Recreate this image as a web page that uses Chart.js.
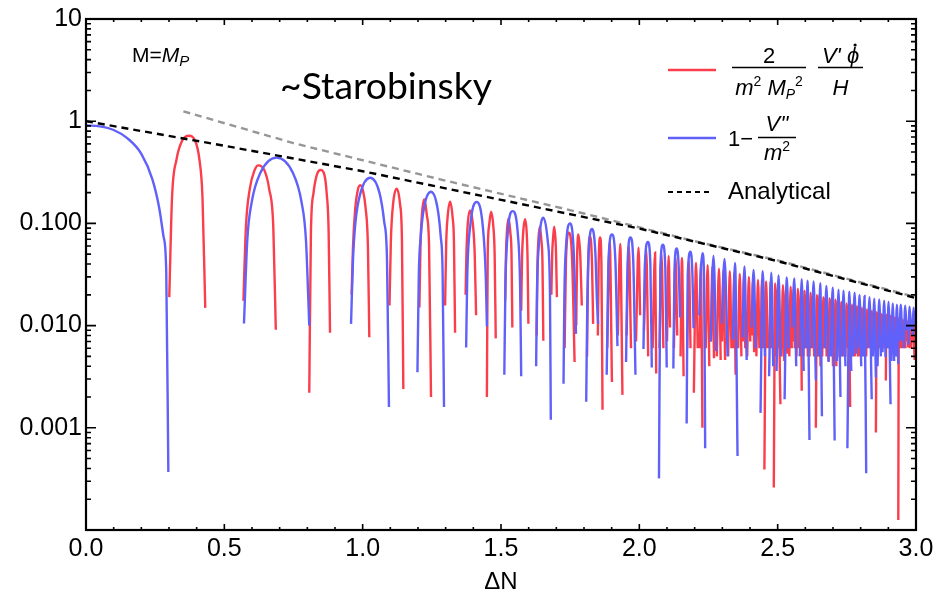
<!DOCTYPE html>
<html>
<head>
<meta charset="utf-8">
<title>Starobinsky oscillations</title>
<script src="https://cdn.jsdelivr.net/npm/chart.js@4.4.1/dist/chart.umd.min.js"></script>
<style>
  body { margin: 0; background: #fff; }
  canvas { display: block; }
</style>
</head>
<body>
<canvas id="mycanvas" width="942" height="599"></canvas>
<script>
// axis ticks
var xTicks = [0, 0.5, 1, 1.5, 2, 2.5, 3];
var xTickLabels = ['0.0', '0.5', '1.0', '1.5', '2.0', '2.5', '3.0'];
var yTicks = [10, 1, 0.1, 0.01, 0.001];
var yTickLabels = ['10', '1', '0.100', '0.010', '0.001'];

// analytical envelope (black dashed) and the grey dashed guide
var analyticalN = [0, 0.5, 1, 1.5, 2, 2.5, 3];
var analyticalY = [1, 0.575, 0.324, 0.170, 0.089, 0.0427, 0.0186];
var guideN = [0.352, 0.75, 1.28, 1.8, 2.2, 2.5, 3];
var guideY = [1.25, 0.61, 0.27, 0.125, 0.067, 0.0435, 0.019];

// 1 - V''/m^2 : each lobe is a list of (dN, value) pairs
var blueLobes = [
  [0,0.91, 0.05,0.89, 0.1,0.82, 0.15,0.68, 0.2,0.48, 0.24,0.27, 0.265,0.14, 0.28,0.075, 0.29,0.035, 0.2976,0.00037],
  [0.571,0.0105, 0.583,0.069, 0.599,0.162, 0.630,0.311, 0.689,0.44, 0.748,0.311, 0.779,0.162, 0.795,0.069, 0.807,0.0100],
  [0.958,0.0104, 0.965,0.044, 0.974,0.103, 0.992,0.198, 1.027,0.28, 1.061,0.198, 1.078,0.103, 1.088,0.044, 1.095,0.0016],
  [1.198,0.0035, 1.203,0.032, 1.210,0.075, 1.222,0.144, 1.247,0.204, 1.270,0.144, 1.282,0.075, 1.289,0.032, 1.294,0.0016],
  [1.374,0.0061, 1.378,0.030, 1.389,0.095, 1.412,0.162, 1.434,0.095, 1.445,0.030, 1.449,0.0098],
  [1.512,0.0033, 1.516,0.025, 1.524,0.078, 1.542,0.132, 1.561,0.078, 1.569,0.025, 1.573,0.0032],
  [1.627,0.004, 1.630,0.021, 1.638,0.067, 1.653,0.114, 1.669,0.067, 1.677,0.021, 1.680,0.0012],
  [1.726,0.0027, 1.729,0.019, 1.735,0.059, 1.750,0.100, 1.762,0.059, 1.768,0.019, 1.771,0.0083],
  [1.808,0.0018, 1.812,0.017, 1.817,0.052, 1.829,0.088, 1.841,0.052, 1.847,0.017, 1.851,0.0104],
  [1.882,0.0033, 1.889,0.046, 1.901,0.078, 1.913,0.046, 1.921,0.0063],
  [1.952,0.0044, 1.958,0.043, 1.968,0.073, 1.978,0.043, 1.986,0.0033],
  [2.015,0.0059, 2.020,0.039, 2.031,0.066, 2.040,0.039, 2.045,0.0039],
  [2.071,0.00032, 2.076,0.036, 2.085,0.062, 2.094,0.036, 2.099,0.0039],
  [2.123,0.0038, 2.127,0.034, 2.135,0.057, 2.143,0.034, 2.147,0.012],
  [2.171,0.0011, 2.175,0.031, 2.185,0.053, 2.192,0.031, 2.196,0.0094],
  [2.217,0.0126, 2.221,0.030, 2.228,0.051, 2.234,0.030, 2.238,0.00063],
  [2.258,0.0070, 2.268,0.048, 2.278,0.0056],
  [2.298,0.0105, 2.308,0.045, 2.319,0.005],
  [2.338,0.0073, 2.346,0.041, 2.355,0.00053],
  [2.373,0.0077, 2.380,0.038, 2.388,0.0046],
  [2.406,0.0096, 2.413,0.035, 2.421,0.006],
  [2.438,0.0014, 2.446,0.034, 2.454,0.005],
  [2.469,0.0032, 2.477,0.033, 2.484,0.004],
  [2.496,0.0036, 2.503,0.031, 2.511,0.005],
  [2.525,0.0019, 2.533,0.0296, 2.540,0.006],
  [2.553,0.0096, 2.560,0.029, 2.567,0.004],
  [2.580,0.005, 2.587,0.0285, 2.594,0.0036],
  [2.602,0.006, 2.608,0.0275, 2.615,0.00076],
  [2.623,0.006, 2.630,0.027, 2.638,0.0029],
  [2.648,0.005, 2.654,0.026, 2.660,0.0013],
  [2.670,0.006, 2.676,0.0245, 2.684,0.0044],
  [2.692,0.005, 2.699,0.0235, 2.706,0.00075],
  [2.714,0.0045, 2.720,0.0225, 2.727,0.002],
  [2.733,0.005, 2.738,0.022, 2.745,0.004],
  [2.752,0.00063, 2.759,0.0215, 2.766,0.0036],
  [2.772,0.005, 2.778,0.021, 2.784,0.0053],
  [2.790,0.006, 2.796,0.020, 2.802,0.004],
  [2.808,0.005, 2.814,0.0195, 2.820,0.00036],
  [2.826,0.006, 2.832,0.019, 2.840,0.0019],
  [2.844,0.005, 2.849,0.0183, 2.855,0.0031],
  [2.861,0.004, 2.867,0.018, 2.873,0.005],
  [2.879,0.0055, 2.885,0.0175, 2.890,0.0049],
  [2.896,0.006, 2.901,0.017, 2.908,0.0017],
  [2.911,0.0045, 2.916,0.0165, 2.921,0.0045],
  [2.926,0.005, 2.931,0.016, 2.936,0.0042],
  [2.940,0.007, 2.945,0.016, 2.950,0.0071],
  [2.956,0.006, 2.961,0.0157, 2.966,0.009],
  [2.972,0.0065, 2.977,0.0153, 2.982,0.009],
  [2.987,0.008, 2.991,0.015, 2.996,0.01]
];

// 2/(m^2 Mp^2) V' phidot / H
var redLobes = [
  [0.301,0.019, 0.311,0.18, 0.327,0.42, 0.347,0.64, 0.372,0.72, 0.395,0.64, 0.410,0.42, 0.421,0.18, 0.431,0.0149],
  [0.569,0.0175, 0.578,0.092, 0.592,0.218, 0.609,0.33, 0.623,0.37, 0.645,0.33, 0.662,0.218, 0.677,0.092, 0.686,0.0091],
  [0.807,0.0022, 0.813,0.083, 0.822,0.196, 0.834,0.297, 0.848,0.333, 0.862,0.297, 0.870,0.196, 0.877,0.083, 0.882,0.0085],
  [0.960,0.02, 0.965,0.059, 0.973,0.139, 0.982,0.21, 0.991,0.236, 1.001,0.21, 1.011,0.139, 1.019,0.059, 1.024,0.0077],
  [1.097,0.0157, 1.102,0.068, 1.110,0.155, 1.123,0.219, 1.135,0.155, 1.142,0.068, 1.147,0.0024],
  [1.205,0.015, 1.209,0.06, 1.214,0.12, 1.222,0.172, 1.232,0.12, 1.240,0.06, 1.247,0.002],
  [1.298,0.0157, 1.302,0.065, 1.307,0.115, 1.316,0.163, 1.325,0.115, 1.330,0.065, 1.334,0.0085],
  [1.372,0.02, 1.375,0.05, 1.380,0.1, 1.388,0.134, 1.398,0.1, 1.405,0.05, 1.410,0.0126],
  [1.449,0.002, 1.452,0.05, 1.457,0.095, 1.464,0.130, 1.472,0.095, 1.477,0.05, 1.481,0.0075],
  [1.515,0.0175, 1.518,0.05, 1.521,0.08, 1.527,0.112, 1.534,0.08, 1.538,0.05, 1.541,0.0096],
  [1.573,0.014, 1.576,0.045, 1.580,0.08, 1.587,0.11, 1.593,0.08, 1.596,0.045, 1.599,0.0104],
  [1.629,0.008, 1.632,0.04, 1.635,0.068, 1.640,0.093, 1.646,0.068, 1.650,0.04, 1.653,0.0071],
  [1.682,0.02, 1.685,0.05, 1.688,0.07, 1.692,0.093, 1.697,0.07, 1.699,0.05, 1.702,0.019],
  [1.730,0.006, 1.735,0.045, 1.745,0.081, 1.757,0.045, 1.766,0.0044],
  [1.772,0.01, 1.775,0.045, 1.780,0.078, 1.787,0.045, 1.792,0.0157],
  [1.811,0.005, 1.815,0.04, 1.822,0.075, 1.829,0.04, 1.833,0.0104],
  [1.850,0.008, 1.853,0.04, 1.858,0.073, 1.863,0.04, 1.867,0.0015],
  [1.884,0.006, 1.893,0.066, 1.901,0.0028],
  [1.922,0.008, 1.931,0.063, 1.939,0.0021],
  [1.954,0.008, 1.962,0.060, 1.970,0.006],
  [1.988,0.007, 1.997,0.058, 2.003,0.0126],
  [2.017,0.009, 2.025,0.055, 2.032,0.005],
  [2.048,0.006, 2.057,0.052, 2.061,0.0034],
  [2.073,0.006, 2.080,0.050, 2.087,0.006],
  [2.100,0.007, 2.106,0.048, 2.111,0.0096],
  [2.125,0.006, 2.131,0.046, 2.137,0.008],
  [2.149,0.005, 2.154,0.046, 2.160,0.0032],
  [2.173,0.006, 2.179,0.043, 2.185,0.006],
  [2.197,0.0022, 2.205,0.041, 2.211,0.006],
  [2.218,0.006, 2.223,0.040, 2.228,0.001],
  [2.240,0.006, 2.247,0.039, 2.253,0.004],
  [2.259,0.007, 2.264,0.038, 2.270,0.0048],
  [2.280,0.005, 2.288,0.036, 2.294,0.0046],
  [2.299,0.007, 2.304,0.035, 2.310,0.0046],
  [2.321,0.005, 2.327,0.034, 2.333,0.006],
  [2.339,0.006, 2.343,0.033, 2.348,0.0033],
  [2.357,0.006, 2.363,0.032, 2.369,0.005],
  [2.374,0.007, 2.378,0.031, 2.383,0.006],
  [2.390,0.005, 2.396,0.030, 2.401,0.007],
  [2.407,0.008, 2.411,0.029, 2.415,0.0055],
  [2.423,0.005, 2.429,0.028, 2.434,0.006],
  [2.439,0.006, 2.443,0.028, 2.447,0.006],
  [2.452,0.00039, 2.458,0.027, 2.464,0.006],
  [2.471,0.006, 2.474,0.027, 2.478,0.006],
  [2.486,0.00026, 2.491,0.026, 2.496,0.005],
  [2.498,0.006, 2.501,0.025, 2.510,0.0017],
  [2.514,0.005, 2.519,0.025, 2.524,0.0045],
  [2.527,0.006, 2.530,0.024, 2.535,0.0053],
  [2.542,0.005, 2.547,0.024, 2.551,0.006],
  [2.555,0.007, 2.558,0.023, 2.562,0.006],
  [2.568,0.005, 2.573,0.023, 2.577,0.006],
  [2.581,0.007, 2.584,0.022, 2.587,0.0023],
  [2.593,0.005, 2.597,0.022, 2.600,0.006],
  [2.603,0.006, 2.606,0.022, 2.609,0.005],
  [2.615,0.005, 2.619,0.021, 2.623,0.006],
  [2.625,0.006, 2.628,0.021, 2.632,0.005],
  [2.638,0.001, 2.642,0.020, 2.646,0.005],
  [2.648,0.006, 2.651,0.020, 2.655,0.004],
  [2.661,0.005, 2.665,0.019, 2.668,0.006],
  [2.670,0.006, 2.673,0.019, 2.677,0.005],
  [2.684,0.0045, 2.688,0.0185, 2.691,0.006],
  [2.693,0.007, 2.696,0.018, 2.700,0.004],
  [2.706,0.006, 2.709,0.018, 2.712,0.004],
  [2.714,0.006, 2.717,0.0175, 2.724,0.0049],
  [2.727,0.005, 2.730,0.017, 2.732,0.006],
  [2.734,0.006, 2.736,0.017, 2.740,0.005],
  [2.745,0.005, 2.749,0.0165, 2.752,0.007],
  [2.754,0.006, 2.757,0.016, 2.762,0.0016],
  [2.766,0.006, 2.769,0.016, 2.771,0.006],
  [2.773,0.007, 2.775,0.0155, 2.779,0.005],
  [2.784,0.006, 2.787,0.0155, 2.790,0.005],
  [2.791,0.007, 2.794,0.015, 2.797,0.005],
  [2.802,0.006, 2.805,0.015, 2.808,0.007],
  [2.809,0.007, 2.812,0.0145, 2.815,0.005],
  [2.820,0.005, 2.823,0.0145, 2.826,0.007],
  [2.827,0.007, 2.830,0.014, 2.833,0.006],
  [2.838,0.006, 2.841,0.014, 2.844,0.007],
  [2.845,0.007, 2.847,0.0138, 2.850,0.006],
  [2.855,0.0009, 2.858,0.0135, 2.861,0.006],
  [2.862,0.007, 2.865,0.0135, 2.868,0.006],
  [2.873,0.006, 2.876,0.013, 2.879,0.007],
  [2.880,0.007, 2.883,0.013, 2.886,0.006],
  [2.891,0.0029, 2.893,0.0128, 2.895,0.007],
  [2.896,0.007, 2.899,0.0125, 2.902,0.006],
  [2.907,0.005, 2.909,0.0125, 2.911,0.007],
  [2.912,0.007, 2.914,0.012, 2.917,0.006],
  [2.921,0.006, 2.923,0.012, 2.925,0.007],
  [2.926,0.007, 2.929,0.012, 2.932,0.005],
  [2.936,0.000125, 2.938,0.0118, 2.940,0.007],
  [2.941,0.007, 2.943,0.0115, 2.946,0.006],
  [2.950,0.006, 2.953,0.0115, 2.955,0.007],
  [2.956,0.007, 2.959,0.011, 2.962,0.006],
  [2.967,0.007, 2.969,0.011, 2.972,0.0061],
  [2.973,0.007, 2.975,0.011, 2.978,0.006],
  [2.983,0.006, 2.985,0.0108, 2.987,0.007],
  [2.988,0.007, 2.990,0.0105, 2.995,0.0046],
  [2.997,0.006, 2.999,0.010, 3.0,0.007]
];

var BLUE = 'rgb(96,96,250)';
var RED = 'rgb(250,62,76)';
var FONT = 'Liberation Sans';

function lobePoints(lobes) {
  var pts = [];
  lobes.forEach(function(l, k) {
    if (k > 0) pts.push({x: l[0], y: null}); // break the line between lobes
    for (var i = 0; i < l.length; i += 2) pts.push({x: l[i], y: l[i + 1]});
  });
  return pts;
}

function pairs(xs, ys) {
  return xs.map(function(v, i) { return {x: v, y: ys[i]}; });
}

// frame with inward ticks on all four sides
var framePlugin = {
  id: 'frame',
  afterDatasetsDraw: function(chart) {
    var ctx = chart.ctx, a = chart.chartArea;
    var xs = chart.scales.x, ys = chart.scales.y;
    ctx.save();
    ctx.strokeStyle = '#000';
    ctx.lineWidth = 1.6;
    ctx.beginPath();
    for (var i = 0; i <= 30; i++) {
      var px = xs.getPixelForValue(i / 10);
      var len = (i % 5 === 0) ? 6 : 3;
      ctx.moveTo(px, a.bottom); ctx.lineTo(px, a.bottom - len);
      ctx.moveTo(px, a.top); ctx.lineTo(px, a.top + len);
    }
    for (var d = 0.0001; d < 10; d *= 10) {
      for (var m = 1; m <= 10; m++) {
        var v = d * m;
        var py = ys.getPixelForValue(v);
        var l2 = (m === 1 || m === 10) ? 10 : 5;
        ctx.moveTo(a.left, py); ctx.lineTo(a.left + l2, py);
        ctx.moveTo(a.right, py); ctx.lineTo(a.right - l2, py);
      }
    }
    ctx.stroke();
    ctx.lineWidth = 2.2;
    ctx.strokeRect(a.left, a.top, a.right - a.left, a.bottom - a.top);
    ctx.restore();
  }
};

function drawRun(ctx, parts, x, y) {
  parts.forEach(function(p) {
    ctx.font = (p[2] ? 'italic ' : '') + p[1] + 'px "' + FONT + '"';
    ctx.fillText(p[0], x, y + (p[3] || 0));
    x += ctx.measureText(p[0]).width;
  });
  return x;
}

function runWidth(ctx, parts) {
  var w = 0;
  parts.forEach(function(p) {
    ctx.font = (p[2] ? 'italic ' : '') + p[1] + 'px "' + FONT + '"';
    w += ctx.measureText(p[0]).width;
  });
  return w;
}

// legend and labels inside the plot
var notesPlugin = {
  id: 'notes',
  afterDraw: function(chart) {
    var ctx = chart.ctx;
    ctx.save();
    ctx.fillStyle = '#000';
    ctx.textAlign = 'left';
    ctx.textBaseline = 'alphabetic';

    // M = M_P
    drawRun(ctx, [['M=', 21, false], ['M', 21, true], ['P', 15, true, 4]], 132, 62);

    // ~Starobinsky
    ctx.font = '34px Lato';
    var w = ctx.measureText('~Starobinsky').width;
    var size = 34 * 212 / w;
    ctx.font = size.toFixed(1) + 'px Lato';
    ctx.fillText('~Starobinsky', 280, 99);

    // legend lines
    ctx.lineWidth = 2.5;
    ctx.strokeStyle = RED;
    ctx.beginPath(); ctx.moveTo(668, 70); ctx.lineTo(716, 70); ctx.stroke();
    ctx.strokeStyle = BLUE;
    ctx.beginPath(); ctx.moveTo(668, 138); ctx.lineTo(716, 138); ctx.stroke();
    ctx.strokeStyle = '#000';
    ctx.lineWidth = 2;
    ctx.setLineDash([5, 4]);
    ctx.beginPath(); ctx.moveTo(668, 192); ctx.lineTo(713, 192); ctx.stroke();
    ctx.setLineDash([]);

    // 2 / (m^2 Mp^2)
    ctx.lineWidth = 1.4;
    ctx.beginPath(); ctx.moveTo(732, 67.5); ctx.lineTo(806, 67.5); ctx.stroke();
    var num = [['2', 22, false]];
    drawRun(ctx, num, 769 - runWidth(ctx, num) / 2, 63);
    var den = [['m', 22, true], ['2', 14, false, -9], [' ', 22, false], ['M', 22, true], ['P', 14, true, 4], ['2', 14, false, -9]];
    drawRun(ctx, den, 769 - runWidth(ctx, den) / 2, 95);

    // V' phidot / H
    ctx.beginPath(); ctx.moveTo(818, 67.5); ctx.lineTo(863, 67.5); ctx.stroke();
    var num2 = [["V'", 22, true], [' ', 22, false], ['\u03D5', 22, true]];
    var x2 = 840.5 - runWidth(ctx, num2) / 2;
    var endX = drawRun(ctx, num2, x2, 63);
    ctx.beginPath(); ctx.arc(endX - 4, 45, 1.6, 0, Math.PI * 2); ctx.fill();
    var den2 = [['H', 22, true]];
    drawRun(ctx, den2, 840.5 - runWidth(ctx, den2) / 2, 95);

    // 1 - V''/m^2
    drawRun(ctx, [['1\u2212', 22, false]], 728, 146);
    ctx.beginPath(); ctx.moveTo(758, 137.5); ctx.lineTo(796, 137.5); ctx.stroke();
    var num3 = [["V''", 22, true]];
    drawRun(ctx, num3, 777 - runWidth(ctx, num3) / 2, 131);
    var den3 = [['m', 22, true], ['2', 14, false, -9]];
    drawRun(ctx, den3, 777 - runWidth(ctx, den3) / 2, 160);

    // Analytical
    drawRun(ctx, [['Analytical', 24, false]], 728, 199);
    ctx.restore();
  }
};

var chartdata = {
  datasets: [
    {
      label: 'Analytical',
      data: pairs(analyticalN, analyticalY),
      borderColor: '#000',
      borderWidth: 2.4,
      borderDash: [7, 5]
    },
    {
      label: 'guide',
      data: pairs(guideN, guideY),
      borderColor: 'rgb(150,150,150)',
      borderWidth: 2.4,
      borderDash: [7, 5]
    },
    {
      label: "1 - V''/m^2",
      data: lobePoints(blueLobes),
      borderColor: BLUE,
      borderWidth: 2.4,
      cubicInterpolationMode: 'monotone'
    },
    {
      label: "2/(m^2 Mp^2) V' phidot/H",
      data: lobePoints(redLobes),
      borderColor: RED,
      borderWidth: 2.4,
      cubicInterpolationMode: 'monotone'
    }
  ]
};

var ctx = document.getElementById('mycanvas');

var plot = new Chart(ctx, {
  type: 'line',
  data: chartdata,
  plugins: [framePlugin, notesPlugin],
  options: {
    responsive: false,
    animation: false,
    elements: { point: { radius: 0 } },
    layout: { padding: { top: 17, right: 26, left: 0, bottom: 0 } },
    plugins: { legend: { display: false }, tooltip: { enabled: false } },
    scales: {
      x: {
        type: 'linear',
        min: 0,
        max: 3,
        afterBuildTicks: function(s) { s.ticks = xTicks.map(function(v) { return {value: v}; }); },
        afterFit: function(s) { s.height = 69; },
        grid: { display: false, drawTicks: false },
        border: { display: false },
        ticks: {
          autoSkip: false,
          maxRotation: 0,
          padding: 4,
          color: '#000',
          font: { family: FONT, size: 25 },
          callback: function(v, i) { return xTickLabels[i]; }
        },
        title: {
          display: true,
          text: '\u0394N',
          color: '#000',
          font: { family: FONT, size: 24 },
          padding: { top: 0, bottom: 2 }
        }
      },
      y: {
        type: 'logarithmic',
        min: 0.0001,
        max: 10,
        afterBuildTicks: function(s) { s.ticks = yTicks.map(function(v) { return {value: v}; }); },
        afterFit: function(s) { s.width = 86; },
        grid: { display: false, drawTicks: false },
        border: { display: false },
        ticks: {
          autoSkip: false,
          padding: 4,
          color: '#000',
          font: { family: FONT, size: 25 },
          callback: function(v, i) { return yTickLabels[i]; }
        }
      }
    }
  }
});
</script>
</body>
</html>
